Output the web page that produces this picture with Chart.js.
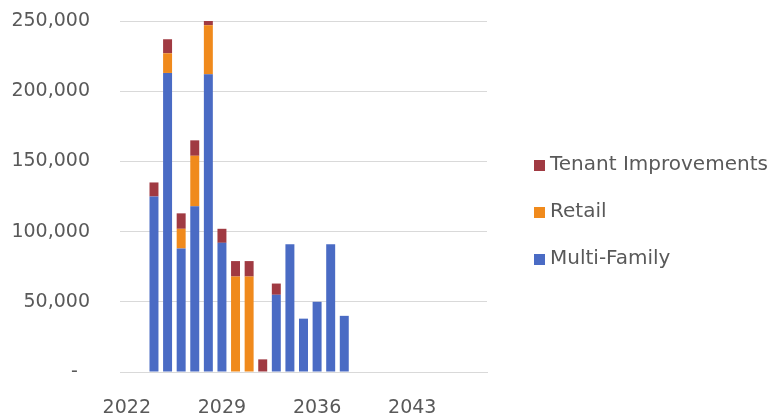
<!DOCTYPE html>
<html>
<head>
<meta charset="utf-8">
<script src="https://cdn.jsdelivr.net/npm/chart.js@4/dist/chart.umd.min.js"></script>
<style>
  html, body { margin: 0; padding: 0; background: #ffffff; }
  #chart { display: block; }
</style>
</head>
<body>
<canvas id="chart" width="776" height="419"></canvas>
<script>
// Years on the category axis
const years = [];
for (let y = 2022; y <= 2048; y++) years.push(String(y));

// Square feet delivered per year, by use type
const multiFamily = [0, 0, 125000, 213000, 88000, 118000, 212000, 92000, 0, 0, 0, 55000, 91000, 38000, 50000, 91000, 40000, 0, 0, 0, 0, 0, 0, 0, 0, 0, 0];
const retail      = [0, 0, 0, 14000, 14000, 36000, 35000, 0, 68000, 68000, 0, 0, 0, 0, 0, 0, 0, 0, 0, 0, 0, 0, 0, 0, 0, 0, 0];
const tenantImpr  = [0, 0, 10000, 10000, 11000, 11000, 3000, 10000, 11000, 11000, 9000, 8000, 0, 0, 0, 0, 0, 0, 0, 0, 0, 0, 0, 0, 0, 0, 0];

const yTicks = [0, 50000, 100000, 150000, 200000, 250000];

const TEXT = '#595959';
const GRID = '#d9d9d9';
const FONT = '"DejaVu Sans", sans-serif';

// Legend drawn to the right of the plot, top series first
const sideLegend = {
  id: 'sideLegend',
  afterDraw(chart) {
    const ctx = chart.ctx;
    const area = chart.chartArea;
    const items = chart.data.datasets.slice().reverse();
    const left = area.right + 47;
    ctx.save();
    ctx.font = '20px ' + FONT;
    ctx.textBaseline = 'middle';
    items.forEach((ds, i) => {
      const cy = 165 + i * 47;
      ctx.fillStyle = ds.backgroundColor;
      ctx.fillRect(left, cy - 5, 11, 11);
      ctx.fillStyle = TEXT;
      ctx.fillText(ds.label, left + 16, cy);
    });
    ctx.restore();
  }
};

new Chart(document.getElementById('chart'), {
  type: 'bar',
  data: {
    labels: years,
    datasets: [
      { label: 'Multi-Family', data: multiFamily, backgroundColor: '#4a6bc4' },
      { label: 'Retail', data: retail, backgroundColor: '#f08a1c' },
      { label: 'Tenant Improvements', data: tenantImpr, backgroundColor: '#a03a42' }
    ]
  },
  options: {
    responsive: false,
    animation: false,
    layout: { padding: { top: 21, right: 289, bottom: 0, left: 0 } },
    datasets: { bar: { barPercentage: 0.66, categoryPercentage: 1 } },
    plugins: { legend: { display: false }, tooltip: { enabled: false } },
    scales: {
      x: {
        stacked: true,
        offset: true,
        grid: { display: false },
        border: { color: GRID, width: 1 },
        ticks: {
          autoSkip: false,
          maxRotation: 0,
          padding: 17,
          color: TEXT,
          font: { family: FONT, size: 19 },
          callback: function (val, idx) { return idx % 7 === 0 ? years[idx] : ''; }
        },
        afterFit: (scale) => { scale.height = 47; }
      },
      y: {
        stacked: true,
        min: 0,
        max: 250000,
        grid: { color: GRID, lineWidth: 1, drawTicks: false },
        border: { display: false },
        afterBuildTicks: (scale) => { scale.ticks = yTicks.map((v) => ({ value: v })); },
        ticks: {
          padding: 30,
          color: TEXT,
          font: { family: FONT, size: 19 },
          callback: (v) => (v === 0 ? '-  ' : v.toLocaleString('en-US'))
        },
        afterFit: (scale) => {
          // tick padding would otherwise push the plot top down
          scale.width = 120;
          scale.paddingTop = 0;
          scale.paddingBottom = 0;
        }
      }
    }
  },
  plugins: [sideLegend]
});
</script>
</body>
</html>
